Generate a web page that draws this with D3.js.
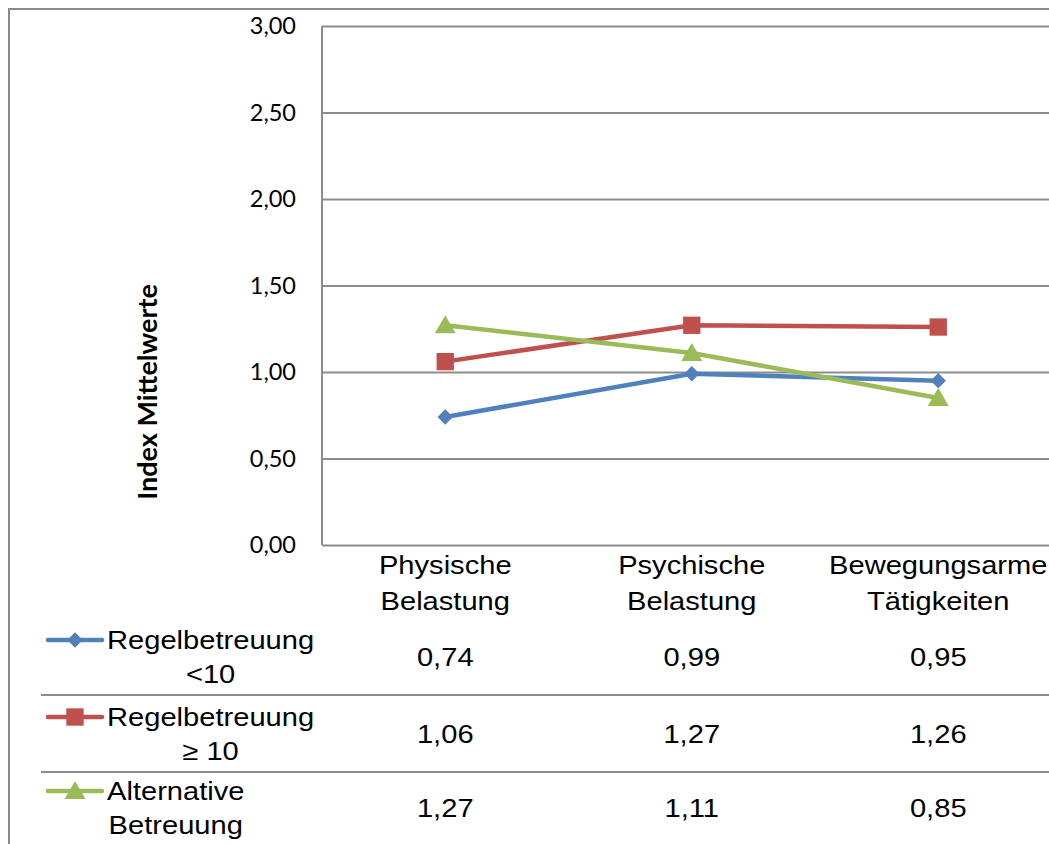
<!DOCTYPE html>
<html>
<head>
<meta charset="utf-8">
<script src="https://cdn.jsdelivr.net/npm/d3@7"></script>
<style>
  body { margin: 0; background: #fff; }
  svg { display: block; }
</style>
</head>
<body>
<svg id="chart" width="1049" height="844"></svg>
<script>
// ---- data ----
const categories = [["Physische", "Belastung"], ["Psychische", "Belastung"], ["Bewegungsarme", "Tätigkeiten"]];
const seriesNames = [["Regelbetreuung", "<10"], ["Regelbetreuung", "≥ 10"], ["Alternative", "Betreuung"]];
const valsRegelLt10 = [0.74, 0.99, 0.95];
const valsRegelGe10 = [1.06, 1.27, 1.26];
const valsAlternative = [1.27, 1.11, 0.85];
const yTicks = [0, 0.5, 1, 1.5, 2, 2.5, 3];
const yTitle = "Index Mittelwerte";

const seriesValues = [valsRegelLt10, valsRegelGe10, valsAlternative];
const colors = ["#4F81BD", "#C0504D", "#9BBB59"];
const markers = ["diamond", "square", "triangle"];

const svg = d3.select("#chart");
const W = 1049, H = 844;
const plotL = 322, plotT = 26, plotB = 545, band = 246.5;
const gridColor = "#8c8c8c";
const SX = 1.12; // horizontal stretch of text in reference
const FS = 26;
const arial = "'Liberation Sans', Arial, sans-serif";
const calib = "Lato, 'Open Sans', sans-serif";

const x = d3.scaleBand().domain(d3.range(categories.length)).range([plotL, plotL + band * categories.length]).padding(0);
const y = d3.scaleLinear().domain([0, 3]).range([plotB, plotT]);
const cx = i => x(i) + x.bandwidth() / 2;
const fmt = v => d3.format(".2f")(v).replace(".", ",");

// outer frame (left + top)
svg.append("path").attr("d", `M9,${H} L9,9 L${W},9`).attr("fill", "none").attr("stroke", "#8a8a8a").attr("stroke-width", 2);

// gridlines via axis
const grid = svg.append("g").attr("transform", `translate(${plotL},0)`)
  .call(d3.axisLeft(y).tickValues(yTicks).tickSize(-(W - plotL)).tickFormat(""));
grid.select(".domain").remove();
grid.selectAll(".tick line").attr("stroke", gridColor).attr("stroke-width", 2);

// left axis line
svg.append("line").attr("x1", plotL).attr("x2", plotL).attr("y1", y(3)).attr("y2", y(0))
  .attr("stroke", gridColor).attr("stroke-width", 2);

// tick labels
const yAxis = svg.append("g").attr("transform", `translate(${plotL},0)`)
  .call(d3.axisLeft(y).tickValues(yTicks).tickSize(0).tickPadding(26).tickFormat(fmt));
yAxis.select(".domain").remove();
yAxis.selectAll(".tick text").attr("font-family", calib).attr("font-size", 23.5).attr("fill", "#000");

// y title
svg.append("text").attr("transform", `translate(157,392) rotate(-90)`)
  .attr("text-anchor", "middle").attr("font-family", calib).attr("font-weight", "bold")
  .attr("font-size", 27).attr("fill", "#000").text(yTitle);

// stretched text helper
function stext(g, tx, ty, str, size, anchor) {
  return g.append("g").attr("transform", `translate(${tx},${ty}) scale(${SX},1)`)
    .append("text").attr("text-anchor", anchor || "middle").attr("dominant-baseline", "central")
    .attr("font-family", arial).attr("font-size", size).attr("fill", "#000").text(str);
}

// category labels
const catG = svg.append("g");
categories.forEach((c, i) => {
  c.forEach((line, k) => stext(catG, cx(i), 565 + k * 36, line, FS));
});

// marker path
function markerPath(type) {
  if (type === "diamond") return d3.symbol().type(d3.symbolSquare).size(118)();
  if (type === "square") return d3.symbol().type(d3.symbolSquare).size(300)();
  return d3.symbol().type(d3.symbolTriangle).size(190)();
}
function markerRot(type) { return type === "diamond" ? 45 : 0; }

// lines
const line = d3.line().x((d, i) => cx(i)).y(d => y(d));
seriesValues.forEach((vals, s) => {
  svg.append("path").datum(vals).attr("d", line).attr("fill", "none")
    .attr("stroke", colors[s]).attr("stroke-width", 4.5).attr("stroke-linejoin", "round").attr("stroke-linecap", "round");
});
seriesValues.forEach((vals, s) => {
  svg.append("g").selectAll("path").data(vals).join("path")
    .attr("d", markerPath(markers[s]))
    .attr("transform", (d, i) => `translate(${cx(i)},${y(d) + (markers[s] === "triangle" ? 2 : 0)}) rotate(${markerRot(markers[s])})`)
    .attr("fill", colors[s]);
});

// data table
const rowCenters = [657, 734, 808];
const rowLines = [695, 772];
rowLines.forEach(yy => svg.append("line").attr("x1", 41).attr("x2", W).attr("y1", yy).attr("y2", yy)
  .attr("stroke", gridColor).attr("stroke-width", 2));

const tbl = svg.append("g");
seriesNames.forEach((nm, s) => {
  const rc = rowCenters[s];
  const legY = rc - 17;
  // legend key
  svg.append("line").attr("x1", 48).attr("x2", 102).attr("y1", legY).attr("y2", legY)
    .attr("stroke", colors[s]).attr("stroke-width", 4.5).attr("stroke-linecap", "round");
  svg.append("path").attr("d", markerPath(markers[s]))
    .attr("transform", `translate(75,${legY + (markers[s] === "triangle" ? 2 : 0)}) rotate(${markerRot(markers[s])})`)
    .attr("fill", colors[s]);
  // legend text: block left aligned at 107, lines centred within block
  const tmp = [];
  nm.forEach((ln, k) => tmp.push(stext(tbl, 0, rc - 17 + k * 34, ln, FS)));
  const maxW = d3.max(tmp, t => t.node().getComputedTextLength()) * SX;
  tmp.forEach((t, k) => d3.select(t.node().parentNode)
    .attr("transform", `translate(${107 + maxW / 2},${rc - 17 + k * 34}) scale(${SX},1)`));
  // values
  seriesValues[s].forEach((v, i) => stext(tbl, cx(i), rc, fmt(v), FS));
});
</script>
</body>
</html>
